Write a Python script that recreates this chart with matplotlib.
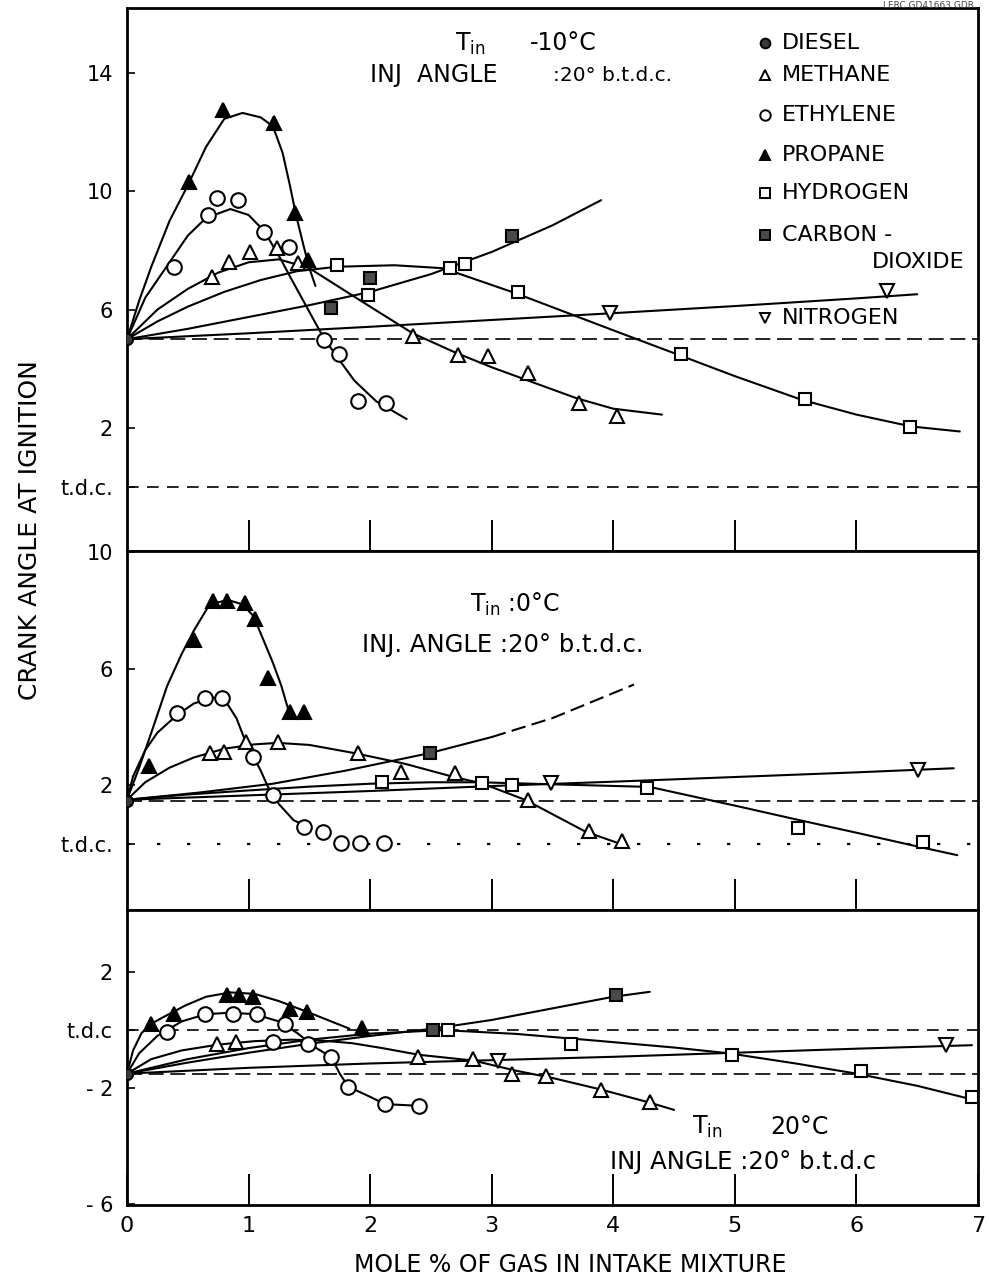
import matplotlib
matplotlib.use("Agg")
import matplotlib.pyplot as plt

plt.rcParams['font.family'] = ['DejaVu Sans']
plt.rcParams['mathtext.fontset'] = 'dejavusans'

# ---------------- axis values ----------------
x_tick_values = [0, 1, 2, 3, 4, 5, 6, 7]
x_tick_labels = ['0', '1', '2', '3', '4', '5', '6', '7']
p1_yticks = [14, 10, 6, 2, 0]
p1_ylabels = ['14', '10', '6', '2', 't.d.c.']
p2_yticks = [10, 6, 2, 0]
p2_ylabels = ['10', '6', '2', 't.d.c.']
p3_yticks = [2, 0, -2, -6]
p3_ylabels = ['2', 't.d.c', '- 2', '- 6']

legend_names = ['DIESEL', 'METHANE', 'ETHYLENE', 'PROPANE', 'HYDROGEN', 'CARBON -', 'NITROGEN']

# ---------------- panel 1 : T_in -10 C ----------------
p1_diesel = [(0.0, 5.0)]
p1_methane_pts = [(0.70, 7.09), (0.84, 7.62), (1.01, 7.96), (1.23, 8.07), (1.41, 7.57), (2.35, 5.10),
                  (2.72, 4.48), (2.97, 4.42), (3.30, 3.87), (3.72, 2.84), (4.03, 2.41)]
p1_methane_curve = [(0, 5), (0.25, 6.0), (0.5, 6.7), (0.75, 7.25), (1.0, 7.6), (1.25, 7.7), (1.5, 7.4),
                    (1.75, 6.75), (2.0, 6.1), (2.35, 5.2), (2.7, 4.55), (3.0, 4.05), (3.3, 3.6),
                    (3.7, 3.0), (4.0, 2.65), (4.4, 2.45)]
p1_ethylene_pts = [(0.39, 7.44), (0.67, 9.2), (0.74, 9.77), (0.91, 9.7), (1.13, 8.63), (1.33, 8.12),
                   (1.62, 4.97), (1.74, 4.5), (1.90, 2.92), (2.13, 2.85)]
p1_ethylene_curve = [(0, 5), (0.15, 6.4), (0.35, 7.6), (0.5, 8.5), (0.65, 9.1), (0.85, 9.4), (1.0, 9.2),
                     (1.13, 8.65), (1.26, 7.74), (1.35, 7.05), (1.45, 6.3), (1.55, 5.55), (1.62, 5.03),
                     (1.72, 4.45), (1.87, 3.6), (2.05, 2.9), (2.3, 2.3)]
p1_propane_pts = [(0.51, 10.3), (0.79, 12.75), (1.21, 12.3), (1.38, 9.26), (1.49, 7.68)]
p1_propane_curve = [(0, 5), (0.1, 6.3), (0.2, 7.45), (0.35, 9.0), (0.5, 10.2), (0.65, 11.5), (0.8, 12.45),
                    (0.95, 12.65), (1.1, 12.5), (1.2, 12.2), (1.28, 11.3), (1.34, 10.2), (1.39, 9.2),
                    (1.45, 8.2), (1.5, 7.4), (1.55, 6.8)]
p1_hydrogen_pts = [(1.73, 7.5), (1.98, 6.5), (2.66, 7.42), (2.78, 7.54), (3.22, 6.6), (4.56, 4.49),
                   (5.58, 2.99), (6.44, 2.03)]
p1_hydrogen_curve = [(0, 5), (0.25, 5.6), (0.5, 6.1), (0.8, 6.6), (1.1, 7.0), (1.4, 7.3), (1.73, 7.45),
                     (2.2, 7.5), (2.6, 7.4), (3.2, 6.55), (4.0, 5.3), (4.55, 4.45), (5.0, 3.75),
                     (5.55, 2.95), (6.0, 2.45), (6.45, 2.05), (6.85, 1.88)]
p1_co2_pts = [(1.68, 6.05), (2.0, 7.06), (3.17, 8.49)]
p1_co2_curve = [(0, 5), (0.5, 5.35), (1.0, 5.75), (1.5, 6.15), (2.0, 6.6), (2.5, 7.2), (3.0, 7.95),
                (3.5, 8.85), (3.9, 9.7)]
p1_nitrogen_pts = [(3.97, 5.9), (6.25, 6.62)]
p1_nitrogen_curve = [(0, 5), (1.0, 5.2), (2.0, 5.42), (3.0, 5.65), (4.0, 5.88), (5.0, 6.12), (6.0, 6.38),
                     (6.5, 6.52)]

# ---------------- panel 2 : T_in 0 C ----------------
p2_diesel = [(0.0, 1.45)]
p2_methane_pts = [(0.68, 3.11), (0.80, 3.14), (0.98, 3.49), (1.24, 3.49), (1.90, 3.09), (2.25, 2.45),
                  (2.70, 2.42), (3.30, 1.48), (3.80, 0.43), (4.07, 0.09)]
p2_methane_curve = [(0, 1.5), (0.15, 2.1), (0.35, 2.6), (0.55, 2.95), (0.8, 3.25), (1.05, 3.4),
                    (1.24, 3.45), (1.5, 3.38), (1.87, 3.1), (2.28, 2.74), (2.68, 2.29), (2.92, 2.06),
                    (3.28, 1.49), (3.77, 0.41), (4.05, 0.0)]
p2_ethylene_pts = [(0.41, 4.48), (0.64, 5.0), (0.78, 5.0), (1.04, 2.97), (1.20, 1.66), (1.46, 0.58),
                   (1.61, 0.41), (1.76, 0.03), (1.92, 0.03), (2.11, 0.03)]
p2_ethylene_curve = [(0, 1.5), (0.05, 2.3), (0.15, 3.2), (0.25, 3.8), (0.41, 4.4), (0.55, 4.8), (0.7, 5.0),
                     (0.8, 4.95), (0.9, 4.3), (0.97, 3.55), (1.04, 2.97), (1.1, 2.5), (1.16, 1.94),
                     (1.25, 1.35), (1.37, 0.8), (1.5, 0.55)]
p2_propane_pts = [(0.18, 2.65), (0.55, 6.98), (0.71, 8.30), (0.82, 8.30), (0.97, 8.26), (1.05, 7.69),
                  (1.16, 5.67), (1.34, 4.52), (1.46, 4.52)]
p2_propane_curve = [(0, 1.5), (0.1, 2.6), (0.2, 3.8), (0.33, 5.4), (0.45, 6.5), (0.55, 7.3), (0.68, 8.2),
                    (0.83, 8.35), (0.95, 8.2), (1.04, 7.8), (1.12, 7.0), (1.2, 6.2), (1.27, 5.4),
                    (1.34, 4.4)]
p2_hydrogen_pts = [(2.10, 2.10), (2.92, 2.07), (3.17, 2.0), (4.28, 1.92), (5.52, 0.54), (6.55, 0.06)]
p2_hydrogen_curve = [(0, 1.5), (0.5, 1.68), (1.0, 1.82), (1.5, 1.95), (2.0, 2.05), (2.5, 2.1), (2.9, 2.1),
                     (3.5, 2.03), (4.3, 1.94), (5.0, 1.3), (5.5, 0.83), (6.0, 0.37), (6.5, -0.1),
                     (6.83, -0.4)]
p2_co2_pts = [(2.49, 3.10)]
p2_co2_curve = [(0, 1.5), (0.6, 1.75), (1.2, 2.05), (1.8, 2.5), (2.49, 3.1), (3.0, 3.65), (3.5, 4.3),
                (4.17, 5.45)]
p2_nitrogen_pts = [(3.49, 2.06), (6.51, 2.52)]
p2_nitrogen_curve = [(0, 1.5), (1.0, 1.65), (2.0, 1.8), (3.0, 1.97), (4.0, 2.12), (5.0, 2.28), (6.0, 2.44),
                     (6.8, 2.58)]

# ---------------- panel 3 : T_in 20 C ----------------
p3_diesel = [(0.0, -1.5)]
p3_methane_pts = [(0.74, -0.47), (0.90, -0.41), (2.39, -0.93), (2.85, -1.0), (3.17, -1.51), (3.45, -1.57),
                  (3.90, -2.05), (4.30, -2.48)]
p3_methane_curve = [(0, -1.5), (0.2, -1.0), (0.45, -0.7), (0.75, -0.5), (1.05, -0.38), (1.35, -0.33),
                    (1.6, -0.36), (1.85, -0.45), (2.1, -0.62), (2.4, -0.85), (2.85, -1.05), (3.2, -1.4),
                    (3.5, -1.65), (3.9, -2.05), (4.3, -2.5), (4.5, -2.75)]
p3_ethylene_pts = [(0.33, -0.07), (0.64, 0.56), (0.87, 0.56), (1.07, 0.56), (1.30, 0.22), (1.20, -0.41),
                   (1.49, -0.47), (1.68, -0.93), (1.82, -1.97), (2.12, -2.55), (2.40, -2.61)]
p3_ethylene_curve = [(0, -1.5), (0.1, -0.8), (0.25, -0.2), (0.45, 0.3), (0.65, 0.55), (0.85, 0.6),
                     (1.05, 0.55), (1.25, 0.3), (1.4, -0.1), (1.55, -0.6), (1.68, -0.93), (1.75, -1.5),
                     (1.82, -1.95), (2.0, -2.3), (2.12, -2.55), (2.4, -2.61)]
p3_propane_pts = [(0.20, 0.22), (0.39, 0.56), (0.82, 1.22), (0.92, 1.20), (1.04, 1.14), (1.34, 0.73),
                  (1.48, 0.62), (1.93, 0.07)]
p3_propane_curve = [(0, -1.5), (0.05, -0.7), (0.12, -0.1), (0.2, 0.22), (0.3, 0.45), (0.48, 0.85),
                    (0.65, 1.15), (0.85, 1.3), (1.05, 1.25), (1.25, 1.0), (1.5, 0.6), (1.83, 0.05)]
p3_hydrogen_pts = [(2.64, 0.0), (3.65, -0.47), (4.98, -0.85), (6.04, -1.41), (6.95, -2.30)]
p3_hydrogen_curve = [(0, -1.5), (0.5, -1.0), (1.0, -0.62), (1.5, -0.33), (2.0, -0.12), (2.6, 0.0),
                     (3.2, -0.13), (3.85, -0.36), (4.5, -0.6), (4.95, -0.8), (5.5, -1.15), (6.0, -1.5),
                     (6.5, -1.92), (6.98, -2.42)]
p3_co2_pts = [(2.52, 0.0), (4.02, 1.2)]
p3_co2_curve = [(0, -1.5), (0.5, -1.12), (1.0, -0.78), (1.5, -0.47), (2.0, -0.2), (2.52, 0.05), (3.0, 0.35),
                (3.5, 0.75), (4.0, 1.15), (4.3, 1.32)]
p3_nitrogen_pts = [(3.05, -1.05), (6.74, -0.53)]
p3_nitrogen_curve = [(0, -1.5), (1.0, -1.3), (2.0, -1.15), (3.05, -1.03), (4.0, -0.92), (5.0, -0.78),
                     (6.0, -0.64), (6.95, -0.52)]

# ---------------- styles ----------------
STY = {
    'diesel':   dict(marker='o', ms=8, mfc='#3a3a3a', mec='black'),
    'methane':  dict(marker='^', ms=10, mfc='white', mec='black'),
    'ethylene': dict(marker='o', ms=10.5, mfc='white', mec='black'),
    'propane':  dict(marker='^', ms=10, mfc='black', mec='black'),
    'hydrogen': dict(marker='s', ms=9, mfc='white', mec='black'),
    'co2':      dict(marker='s', ms=9, mfc='#4a4a4a', mec='black'),
    'nitrogen': dict(marker='v', ms=10, mfc='white', mec='black'),
}
LEG_STY = {
    'diesel':   dict(marker='o', ms=7, mfc='#3a3a3a', mec='black'),
    'methane':  dict(marker='^', ms=7, mfc='white', mec='black'),
    'ethylene': dict(marker='o', ms=7.5, mfc='white', mec='black'),
    'propane':  dict(marker='^', ms=7, mfc='black', mec='black'),
    'hydrogen': dict(marker='s', ms=6.5, mfc='white', mec='black'),
    'co2':      dict(marker='s', ms=7, mfc='#4a4a4a', mec='black'),
    'nitrogen': dict(marker='v', ms=7, mfc='white', mec='black'),
}
gas_keys = ['diesel', 'methane', 'ethylene', 'propane', 'hydrogen', 'co2', 'nitrogen']

panels = [
    dict(diesel=p1_diesel,
         series=[('methane', p1_methane_curve, p1_methane_pts), ('ethylene', p1_ethylene_curve, p1_ethylene_pts),
                 ('propane', p1_propane_curve, p1_propane_pts), ('hydrogen', p1_hydrogen_curve, p1_hydrogen_pts),
                 ('co2', p1_co2_curve, p1_co2_pts), ('nitrogen', p1_nitrogen_curve, p1_nitrogen_pts)]),
    dict(diesel=p2_diesel,
         series=[('methane', p2_methane_curve, p2_methane_pts), ('ethylene', p2_ethylene_curve, p2_ethylene_pts),
                 ('propane', p2_propane_curve, p2_propane_pts), ('hydrogen', p2_hydrogen_curve, p2_hydrogen_pts),
                 ('co2', p2_co2_curve, p2_co2_pts), ('nitrogen', p2_nitrogen_curve, p2_nitrogen_pts)]),
    dict(diesel=p3_diesel,
         series=[('methane', p3_methane_curve, p3_methane_pts), ('ethylene', p3_ethylene_curve, p3_ethylene_pts),
                 ('propane', p3_propane_curve, p3_propane_pts), ('hydrogen', p3_hydrogen_curve, p3_hydrogen_pts),
                 ('co2', p3_co2_curve, p3_co2_pts), ('nitrogen', p3_nitrogen_curve, p3_nitrogen_pts)]),
]

fig = plt.figure(figsize=(9.89, 12.81), dpi=100)
L, W = 0.1284, 0.8605
ax1 = fig.add_axes([L, 0.5699, W, 0.4239])
ax2 = fig.add_axes([L, 0.2896, W, 0.2803])
ax3 = fig.add_axes([L, 0.0593, W, 0.2303])
axes = [ax1, ax2, ax3]
ylims = [(-2.16, 16.2), (-2.28, 10.03), (-6.03, 4.14)]
yt = [(p1_yticks, p1_ylabels), (p2_yticks, p2_ylabels), (p3_yticks, p3_ylabels)]

for i, (ax, pdata) in enumerate(zip(axes, panels)):
    ax.set_xlim(0, 7)
    ax.set_ylim(*ylims[i])
    for sp in ax.spines.values():
        sp.set_linewidth(2.0)
    dval = pdata['diesel'][0][1]
    # reference lines: diesel level and t.d.c.
    ax.axhline(dval, color='black', lw=1.2, ls=(0, (9, 4)), zorder=1)
    if i == 1:
        ax.axhline(0, color='black', lw=1.6, ls=(0, (1.5, 12)), zorder=1)
    else:
        ax.axhline(0, color='black', lw=1.2, ls=(0, (7, 5)), zorder=1)
    for key, curve, pts in pdata['series']:
        cx = [p[0] for p in curve]
        cy = [p[1] for p in curve]
        if key == 'co2' and i == 1:
            ax.plot(cx[:6], cy[:6], color='black', lw=1.5, zorder=2)
            ax.plot(cx[5:], cy[5:], color='black', lw=1.5, ls=(0, (7, 3)), zorder=2)
        else:
            ax.plot(cx, cy, color='black', lw=1.5, zorder=2, solid_capstyle='round')
        ax.plot([p[0] for p in pts], [p[1] for p in pts], ls='none', mew=1.5, zorder=3, **STY[key])
    ax.plot([p[0] for p in pdata['diesel']], [p[1] for p in pdata['diesel']], ls='none', mew=1.5,
            zorder=4, **STY['diesel'])
    ax.set_xticks(x_tick_values[1:-1])
    ax.tick_params(axis='x', direction='in', length=22, width=1.4, top=False, labelbottom=False)
    ax.set_yticks(yt[i][0])
    ax.set_yticklabels(yt[i][1])
    ax.tick_params(axis='y', direction='in', length=6, width=1.2, pad=10, labelsize=15)

ax3.set_xticks(x_tick_values)
ax3.set_xticklabels(x_tick_labels)
ax3.tick_params(axis='x', labelbottom=True, labelsize=16, pad=8)

# annotations
ax1.text(2.70, 15.0, r'T$_{\rm in}$', fontsize=17, va='center', ha='left')
ax1.text(3.31, 15.0, '-10°C', fontsize=17, va='center', ha='left')
ax1.text(2.00, 13.93, 'INJ  ANGLE', fontsize=17, va='center', ha='left')
ax1.text(3.50, 13.93, ':20° b.t.d.c.', fontsize=14.5, va='center', ha='left')

ax2.text(2.82, 8.19, r'T$_{\rm in}$ :0°C', fontsize=17, va='center', ha='left')
ax2.text(1.93, 6.81, 'INJ. ANGLE :20° b.t.d.c.', fontsize=17.5, va='center', ha='left')

ax3.text(4.65, -3.34, r'T$_{\rm in}$', fontsize=17, va='center', ha='left')
ax3.text(5.29, -3.34, '20°C', fontsize=17, va='center', ha='left')
ax3.text(3.97, -4.55, 'INJ ANGLE :20° b.t.d.c', fontsize=17.5, va='center', ha='left')

# legend (hand placed as in original figure)
leg_y = [15.02, 13.93, 12.58, 11.23, 9.94, 8.52, 5.72]
for key, name, y in zip(gas_keys, legend_names, leg_y):
    ax1.plot([5.25], [y], ls='none', mew=1.4, **LEG_STY[key])
    ax1.text(5.39, y, name, fontsize=16, va='center', ha='left')
ax1.text(6.89, 7.61, 'DIOXIDE', fontsize=16, va='center', ha='right')

fig.text(30 / 989, 1 - 530 / 1281, 'CRANK ANGLE AT IGNITION', rotation=90, fontsize=18,
         ha='center', va='center')
fig.text(570 / 989, 1 - 1265 / 1281, 'MOLE % OF GAS IN INTAKE MIXTURE', fontsize=17,
         ha='center', va='center')
fig.text(0.985, 0.9995, 'LERC GD41663.GDR', fontsize=6.5, color='#444444', ha='right', va='top')

fig.savefig('out.png', dpi=100)
